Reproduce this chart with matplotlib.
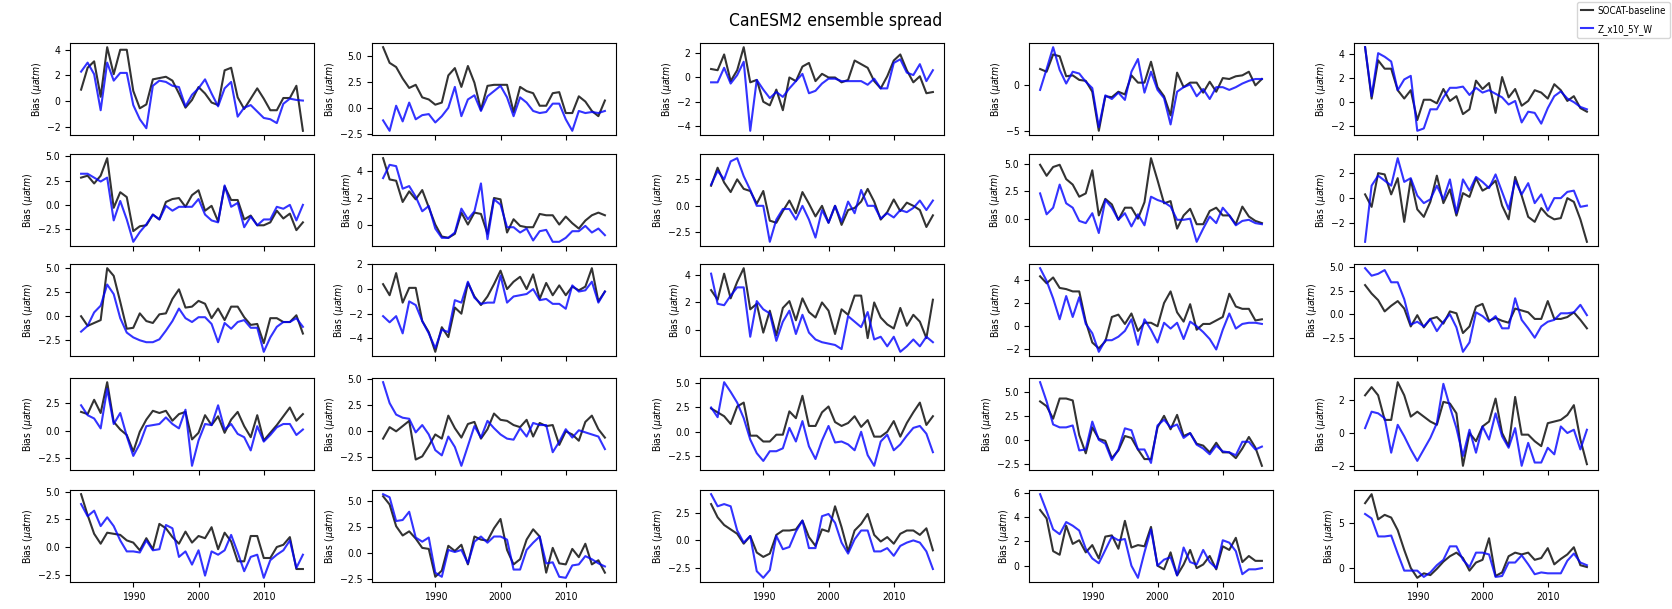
import numpy as np
import matplotlib
matplotlib.use("Agg")
import matplotlib.pyplot as plt

rc = plt.rc
rc('font', family="DejaVu Sans", size=7.5, stretch="condensed")

years = np.arange(1982, 2017)

# pCO2 bias per ensemble member: SOCAT-baseline (k) vs Z_x10_5Y_W (b)
m01_socat = [0.9, 2.6, 3.1, 0.35, 4.2, 2.1, 4.0, 4.0, 0.8, -0.55, -0.25, 1.7, 1.8, 1.9, 1.6, 0.6, -0.5, 0.1, 1.1, 0.6, -0.1, -0.3, 2.4, 2.6, 0.3, -0.6, 0.2, 1.0, 0.2, -0.7, -0.7, 0.25, 0.25, 1.2, -2.3]
m01_zx10 = [2.3, 3.0, 2.1, -0.7, 3.0, 1.6, 2.2, 2.2, -0.3, -1.4, -2.1, 1.2, 1.6, 1.5, 1.2, 1.1, -0.4, 0.5, 1.0, 1.7, 0.6, -0.4, 1.0, 1.5, -1.2, -0.5, -0.3, -0.8, -1.3, -1.4, -1.7, -0.2, 0.2, 0.1, 0.05]
m02_socat = [5.8, 4.3, 3.9, 2.8, 1.9, 2.2, 1.0, 0.8, 0.3, 0.5, 3.1, 3.8, 2.0, 4.0, 2.4, -0.2, 2.1, 2.2, 2.2, 2.2, -0.4, 2.0, 1.6, 1.4, 0.2, 0.2, 1.4, 1.5, -0.5, -0.5, 1.1, 0.6, -0.3, -0.8, 0.7]
m02_zx10 = [-1.2, -2.2, 0.2, -1.3, 0.5, -1.1, -0.7, -0.6, -1.4, -0.8, 0.0, 2.0, -0.8, 0.8, 1.2, -0.3, 1.1, 1.6, 2.1, 1.0, -0.8, 1.0, 0.5, -0.3, -0.5, -0.4, 0.4, 0.4, -1.1, -2.2, -0.3, -0.5, -0.4, -0.5, -0.3]
m03_socat = [0.7, 0.6, 1.9, -0.3, 0.6, 2.5, -0.4, -0.2, -2.0, -2.3, -1.0, -2.7, 0.0, -0.3, 0.9, 1.2, -0.3, 0.3, 0.0, 0.0, -0.4, -0.2, 1.4, 1.1, 0.8, -0.3, -0.9, 0.1, 1.4, 1.9, 0.6, -0.4, 0.1, -1.3, -1.2]
m03_zx10 = [-0.4, -0.4, 0.8, -0.5, 0.2, 1.3, -4.4, -0.2, -1.0, -1.7, -1.2, -1.6, -0.9, -0.3, 0.3, -1.3, -1.1, -0.5, -0.1, -0.1, -0.3, -0.3, -0.3, -0.3, -0.6, -0.1, -0.9, -0.9, 1.2, 1.5, 0.4, 0.2, 1.1, -0.3, 0.6]
m04_socat = [1.8, 1.5, 3.4, 3.2, 1.0, 1.1, 0.6, 0.5, -0.7, -5.0, -1.2, -1.3, -0.7, -1.0, 1.1, 0.3, 0.3, 2.6, -0.2, -1.2, -3.3, 1.4, -0.2, 0.3, 0.3, -0.8, 0.4, -0.7, 0.8, 0.7, 1.0, 1.1, 1.5, 0.0, 0.7]
m04_zx10 = [-0.5, 1.8, 4.2, 1.7, 0.2, 1.5, 1.3, 0.4, -0.3, -4.6, -1.1, -1.5, -0.8, -1.6, 1.5, 2.9, -0.8, 1.5, -0.5, -1.4, -4.3, -0.7, -0.2, 0.1, -1.2, -0.4, -1.5, -0.2, -0.2, -0.5, -0.2, 0.2, 0.5, 0.7, 0.7]
m05_socat = [4.6, 0.3, 3.5, 2.8, 2.8, 1.0, 0.3, 1.0, -1.5, 0.2, 0.2, -0.1, 1.1, 0.1, 0.5, -1.0, -0.6, 1.8, 1.1, 1.6, -0.9, 2.1, 0.4, 1.1, -0.3, 0.1, 1.0, 0.8, 0.3, 1.5, 1.0, 0.1, 0.5, -0.5, -0.8]
m05_zx10 = [4.6, 0.5, 4.1, 3.8, 3.4, 1.0, 1.9, 2.2, -2.4, -2.2, -0.6, -0.6, 0.4, 1.2, 1.2, 1.3, 0.6, 1.2, 0.8, 1.0, 0.7, 0.4, -0.2, 0.1, -1.7, -0.8, -0.9, -1.8, -0.5, 0.5, 0.9, 0.3, 0.0, -0.4, -0.6]

m06_socat = [2.8, 3.0, 2.2, 3.0, 4.8, -0.3, 1.3, 0.8, -2.7, -2.2, -2.1, -1.0, -1.5, 0.3, 0.6, 0.7, -0.2, 1.0, 1.5, -0.6, -0.1, -1.7, 1.9, 0.5, 0.5, -1.5, -1.1, -2.1, -2.1, -1.8, -0.6, -1.4, -0.9, -2.6, -1.8]
m06_zx10 = [3.2, 3.2, 2.8, 2.4, 2.8, -1.6, 0.4, -1.5, -3.8, -2.8, -2.0, -1.0, -1.5, -0.1, -0.6, -0.2, -0.2, -0.2, 0.6, -1.0, -1.6, -1.8, 2.0, -0.2, 0.2, -2.3, -1.2, -2.1, -1.5, -1.5, -0.2, -0.4, 0.0, -1.6, 0.0]
m07_socat = [5.0, 3.4, 3.3, 1.7, 2.5, 1.9, 2.6, 1.3, 0.0, -0.9, -1.0, -0.7, 0.9, 0.0, 0.9, 0.8, -0.7, 2.0, 1.9, -0.6, 0.4, -0.1, -0.2, -0.2, 0.8, 0.7, 0.7, 0.0, 0.6, 0.1, -0.3, 0.3, 0.7, 0.9, 0.7]
m07_zx10 = [3.5, 4.5, 4.4, 2.7, 2.9, 2.1, 1.0, 1.4, -0.3, -1.0, -1.0, -0.6, 1.2, 0.4, 1.0, 3.1, -1.1, 1.9, 1.5, -0.2, -0.2, -0.6, -0.3, -1.2, -0.5, -0.4, -1.3, -1.3, -1.0, -0.5, -0.5, -0.1, -0.6, -0.3, -0.8]
m08_socat = [1.9, 3.6, 2.2, 1.3, 2.5, 1.6, 1.4, 0.2, 1.4, -1.4, -1.6, -0.5, 0.5, -0.7, 1.3, 0.2, -1.0, 0.0, -1.6, 0.0, -1.8, -0.4, -0.2, 0.4, 1.6, 0.4, -1.3, -0.6, 0.6, -0.5, 0.3, 0.0, -0.4, -2.0, -0.9]
m08_zx10 = [2.0, 3.3, 2.5, 4.2, 4.5, 2.8, 1.5, 0.0, 0.0, -3.4, -1.3, -0.3, -0.3, -1.3, 0.0, -1.3, -3.0, -0.4, -1.6, 0.0, -1.5, 0.4, -0.7, 1.5, 0.0, 0.0, -1.2, -0.7, -1.1, -0.4, -0.6, -0.2, 0.5, -0.4, 0.5]
m09_socat = [4.9, 3.9, 4.7, 4.9, 3.6, 3.1, 2.0, 2.3, 4.4, 0.3, 1.8, 1.3, -0.1, 1.0, 1.0, 0.0, 1.5, 5.5, 3.5, 1.4, 1.6, -0.9, 0.3, 0.9, -0.5, -0.5, 0.7, 1.0, 0.3, 0.3, -0.5, 1.1, 0.2, -0.2, -0.4]
m09_zx10 = [2.3, 0.4, 1.0, 3.1, 1.4, 1.0, -0.2, -0.4, 0.5, -1.3, 1.7, 1.0, -0.1, 0.5, -0.7, 0.4, -0.6, 2.0, 1.7, 1.5, 1.1, -0.1, -0.1, 0.0, -2.1, -0.9, 0.2, -0.4, 1.0, 0.3, -0.6, -0.2, -0.1, -0.4, -0.5]
m10_socat = [0.3, -0.7, 2.0, 1.9, 0.3, 1.6, -1.9, 1.5, -0.9, -1.5, -0.3, 1.8, -0.4, 0.7, -1.4, 0.4, 0.1, 1.6, 0.6, 0.9, 1.4, -0.6, -1.7, 1.7, 0.2, -1.5, -1.9, -0.8, -1.4, -1.7, -1.6, 0.0, -0.3, -1.7, -3.5]
m10_zx10 = [-3.5, 1.0, 1.8, 1.4, 1.0, 3.2, 1.3, 1.6, 0.2, -0.4, -0.1, 1.0, -0.1, 1.5, -1.2, 1.5, 0.6, 1.7, 1.3, 0.8, 1.9, 0.5, -0.9, 1.4, 0.3, 1.2, -0.4, 0.3, -1.0, 0.0, 0.0, 0.5, 0.6, -0.7, -0.6]

m11_socat = [0.0, -1.0, -0.7, -0.4, 5.0, 4.2, 1.5, -1.3, -1.2, 0.3, -0.5, -0.7, 0.2, 0.3, 1.8, 2.8, 0.9, 1.0, 1.6, 1.3, -0.2, 0.8, -0.4, 1.0, 1.0, -0.1, -0.9, -0.8, -2.8, -0.2, -0.2, -0.6, -0.6, 0.1, -1.8]
m11_zx10 = [-1.6, -1.0, 0.4, 1.1, 3.3, 2.3, -0.2, -1.7, -2.2, -2.5, -2.7, -2.7, -2.4, -1.5, -0.5, 0.8, -0.2, -0.6, -0.1, -0.1, -0.8, -2.7, -0.7, -1.3, -0.6, -0.4, -1.2, -1.2, -3.7, -2.2, -1.1, -0.6, -0.6, -0.2, -1.1]
m12_socat = [0.4, -0.5, 1.3, -1.1, 0.1, 0.1, -2.6, -3.5, -5.1, -3.1, -3.9, -1.5, -2.0, 0.5, -0.6, -1.3, -0.6, 0.4, 1.5, 0.0, 0.6, 1.0, 0.0, 1.2, -0.8, 0.5, -0.5, 0.3, -0.5, 0.2, -0.1, 0.2, 1.7, -1.0, -0.2]
m12_zx10 = [-2.2, -2.7, -2.2, -3.6, -1.0, -1.3, -2.6, -3.6, -4.8, -3.3, -3.5, -0.9, -1.1, 0.6, -0.7, -1.2, -1.1, -1.1, 1.1, -1.1, -0.6, -0.5, -0.4, 0.0, -0.9, -0.8, -1.2, -1.2, -1.6, 0.3, -0.2, -0.1, 0.6, -1.1, -0.2]
m13_socat = [2.9, 2.2, 4.1, 2.3, 3.5, 4.5, 1.5, 1.9, -0.2, 1.4, -0.4, 1.6, 2.1, 0.7, 2.3, 1.3, 0.9, 2.0, 1.4, -0.3, 1.5, 1.1, 2.5, 2.5, -0.6, 2.0, 0.9, 0.4, 0.1, 1.6, 0.3, 1.1, 0.6, -0.6, 2.2]
m13_zx10 = [4.1, 1.9, 1.8, 2.5, 3.1, 3.1, -0.5, 2.1, 1.5, 1.2, -0.8, 0.6, 1.4, -0.3, 1.1, -0.2, -0.7, -0.9, -1.0, -1.1, -1.4, 1.0, 0.6, 0.2, 1.3, -0.7, -0.5, -1.2, -0.5, -1.6, -1.2, -0.7, -1.2, -0.5, -0.9]
m14_socat = [4.3, 3.7, 4.2, 3.3, 3.2, 3.0, 3.0, 0.4, -1.4, -1.9, -1.3, 0.8, 1.0, 0.2, 1.1, -0.4, 0.3, 0.3, 0.0, 2.0, 3.0, 1.2, 0.4, 1.9, -0.3, 0.2, 0.2, 0.5, 0.8, 2.8, 1.7, 1.5, 1.5, 0.5, 0.6]
m14_zx10 = [5.0, 3.9, 2.4, 0.6, 2.6, 0.8, 2.5, 0.2, -0.6, -2.2, -1.2, -1.2, -0.9, -0.4, 0.6, -1.6, 0.6, -0.3, -1.4, 0.3, -0.2, 0.3, -1.1, 0.4, 0.0, -0.5, -1.1, -2.0, -0.3, 1.1, -0.2, 0.2, 0.3, 0.3, 0.2]
m15_socat = [3.1, 2.2, 1.5, 0.3, 0.9, 1.4, 0.6, -1.3, -0.1, -1.4, -0.5, -0.3, -1.0, 0.3, 0.1, -2.0, -1.3, 0.8, 1.1, -0.7, -0.4, -0.7, -0.9, 0.6, 0.4, 0.2, -0.5, -0.5, 1.4, -0.5, -0.5, -0.3, 0.2, -0.6, -1.5]
m15_zx10 = [4.9, 4.1, 4.3, 4.7, 3.4, 3.4, 1.6, -1.1, -0.8, -1.3, -0.5, -1.8, -0.8, 0.0, -1.4, -4.0, -3.0, 0.2, -0.2, -0.8, -0.2, -1.5, -1.5, 1.7, -0.6, -1.5, -2.5, -1.3, -0.8, -0.6, 0.1, 0.1, 0.2, 1.0, -0.1]

m16_socat = [1.7, 1.5, 2.8, 1.6, 4.4, 0.8, 0.1, -0.4, -1.9, -0.1, 1.0, 1.8, 1.6, 1.8, 0.9, 1.5, 1.7, -0.8, -0.2, 1.4, 0.5, 1.3, -0.2, 1.0, 1.7, 0.4, -0.6, 1.4, -0.9, -0.2, 0.5, 1.3, 2.1, 0.9, 1.5]
m16_zx10 = [2.3, 1.4, 1.1, 0.2, 3.8, 0.6, 1.6, -0.5, -2.3, -1.2, 0.4, 0.5, 0.6, 1.2, 0.6, 0.2, 1.9, -3.2, -0.9, 0.6, 0.5, 2.3, 0.1, 0.6, -0.3, -0.6, -1.8, 0.4, -1.0, -0.4, 0.3, 0.6, 0.6, -0.4, 0.1]
m17_socat = [-0.7, 0.4, 0.0, 0.5, 1.0, -2.7, -2.4, -1.4, -0.3, -0.7, 1.5, 0.3, -0.6, 0.7, 0.9, -0.7, 0.2, 1.7, 1.1, 1.0, 0.6, 0.4, 1.1, -0.5, 0.8, 0.5, 0.6, -1.3, 0.0, -0.3, -0.9, 0.9, 1.5, 0.2, -0.6]
m17_zx10 = [4.7, 2.7, 1.6, 1.3, 1.2, -0.1, 0.6, -0.3, -1.8, -2.3, -0.5, -1.5, -3.3, -1.4, 0.5, -0.6, 1.0, 0.3, -0.3, -0.7, -0.8, 0.3, -0.5, 0.8, 0.6, 0.6, -2.0, -1.0, 0.2, -0.6, 0.1, -0.1, -0.3, -0.5, -1.7]
m18_socat = [2.4, 2.0, 1.6, 0.8, 2.6, 3.0, -0.4, -0.4, -1.0, -1.0, -0.3, -0.3, 2.1, 1.4, 3.7, 0.6, 0.6, 2.0, 2.6, 1.0, 0.6, 0.9, 1.6, 0.5, 1.2, -0.5, -0.5, 0.0, 1.1, -0.5, 0.9, 2.0, 3.0, 0.7, 1.6]
m18_zx10 = [2.5, 1.5, 5.1, 4.1, 3.0, 1.4, -0.8, -2.2, -3.0, -2.0, -2.0, -1.7, 0.4, -1.0, 1.1, -1.5, -2.8, -0.9, 0.6, -1.1, -1.0, -1.3, -1.9, 0.0, -2.4, -3.5, -1.0, -0.3, -1.9, -1.3, -0.4, 0.4, 0.6, -0.2, -2.1]
m19_socat = [4.0, 3.5, 2.2, 4.3, 4.3, 4.1, 0.5, -1.4, 1.3, 0.1, -0.1, -1.9, -1.1, 0.4, 0.2, -1.0, -2.0, -2.0, 1.3, 2.5, 1.1, 2.6, 0.4, 0.7, -0.4, -0.6, -1.3, -0.3, -1.3, -1.3, -1.9, -0.9, 0.3, -0.8, -2.7]
m19_zx10 = [6.0, 4.0, 1.6, 1.3, 1.3, 1.5, -1.1, -1.0, 1.9, 0.0, -0.4, -2.1, -1.0, 1.2, 1.0, -1.0, -1.0, -2.4, 1.5, 2.1, 1.3, 1.6, 0.2, 0.7, -0.5, -0.9, -1.5, -0.6, -1.2, -1.3, -1.6, -0.2, -0.2, -1.0, -0.7]
m20_socat = [2.3, 2.8, 2.3, 0.8, 0.8, 3.1, 2.3, 1.0, 1.3, 1.0, 0.7, 0.5, 1.9, 1.8, 1.2, -2.0, 0.0, -0.5, 0.4, 0.7, 2.1, 0.0, -0.8, 2.2, -0.1, -0.1, -0.5, -0.8, 0.6, 0.7, 0.8, 1.1, 1.7, -0.4, -1.9]
m20_zx10 = [0.3, 1.3, 1.2, 0.9, -1.2, 0.5, -0.2, -1.0, -1.7, -1.0, -0.3, 0.6, 3.0, 1.6, 0.3, -1.4, 0.2, -1.2, 0.4, -0.4, 1.2, -0.2, -0.9, 0.3, -2.0, -0.6, -1.8, -1.8, -0.9, -1.3, 0.4, 0.0, 0.2, -1.0, 0.2]

m21_socat = [4.8, 2.9, 1.2, 0.3, 1.3, 1.2, 1.1, 0.6, 0.4, -0.3, 0.8, -0.2, 2.1, 1.7, 0.9, 0.3, 1.4, 0.4, 1.0, 0.8, 1.8, -0.2, 1.3, 0.5, -1.3, -1.3, 1.0, 1.0, -1.0, -1.0, 0.0, 0.2, 0.9, -2.0, -2.0]
m21_zx10 = [3.9, 2.8, 3.3, 1.9, 2.7, 1.9, 0.6, -0.4, -0.4, -0.5, 0.6, -0.3, -0.2, 2.0, 1.7, -0.9, -0.4, -1.6, -0.3, -2.6, -0.4, -0.7, -0.3, 1.1, -0.5, -2.2, -0.9, -0.7, -2.8, -1.2, -0.7, -0.3, 0.6, -1.9, -0.7]
m22_socat = [5.5, 4.7, 2.6, 1.7, 2.1, 1.4, 0.5, 0.4, -2.3, -1.7, 0.7, 0.2, 0.8, -1.1, 1.6, 1.3, 1.2, 2.4, 3.3, 0.3, -1.1, -0.6, 1.3, 2.3, 1.6, -1.9, 0.5, -1.0, -1.1, 0.4, -0.4, 0.9, -1.1, -0.7, -1.9]
m22_zx10 = [5.7, 5.4, 3.1, 3.2, 4.0, 1.5, 1.1, 1.5, -1.9, -2.3, 0.3, 0.1, 0.3, -1.0, 1.1, 1.6, 1.0, 1.6, 1.6, 1.3, -1.6, -1.6, 0.3, 1.0, 1.6, -1.0, -0.9, -2.3, -2.4, -1.2, -1.1, -0.3, -0.6, -1.0, -1.3]
m23_socat = [3.3, 2.1, 1.4, 1.0, 0.6, -0.3, 0.4, -1.1, -1.5, -1.2, 0.5, 0.9, 0.9, 1.0, 1.8, 0.3, -0.5, 1.0, 0.8, 3.1, 1.2, -1.0, 0.9, 1.5, 2.4, 0.5, -0.1, 0.3, -0.3, 0.6, 0.9, 0.9, 0.5, 1.1, -0.9]
m23_zx10 = [4.2, 3.1, 3.3, 3.1, 0.9, -0.2, 0.4, -2.8, -3.4, -2.7, 0.4, -0.8, -0.6, 0.8, 1.8, -0.7, -0.7, 2.2, 2.4, 1.6, -0.2, -1.2, 0.1, 0.9, 0.9, -1.0, -1.0, -0.7, -1.4, -0.5, -0.2, 0.0, -0.2, -1.0, -2.6]
m24_socat = [4.6, 3.9, 1.2, 0.9, 3.3, 1.8, 2.1, 1.1, 1.7, 0.6, 2.4, 2.5, 1.4, 3.7, 1.5, 1.7, 1.6, 3.2, 0.0, -0.3, 1.1, -0.8, 0.1, 1.3, -0.2, 0.1, 0.8, -0.3, 1.6, 1.3, 2.3, 0.3, 0.8, 0.4, 0.4]
m24_zx10 = [5.9, 4.5, 3.0, 2.6, 3.6, 3.3, 2.9, 1.4, 0.6, 0.2, 1.3, 2.4, 2.1, 2.2, 0.0, -1.0, 1.1, 3.0, 0.0, 0.5, 0.7, -0.8, 1.5, 0.3, 0.1, 1.3, 0.3, -0.2, 2.1, 1.9, 1.2, -0.7, -0.3, -0.3, -0.2]
m25_socat = [7.2, 8.2, 5.4, 5.9, 5.6, 4.2, 2.0, 0.0, -1.1, -0.6, -0.8, -0.1, 0.7, 1.3, 1.7, 1.1, -0.3, 0.6, 0.9, 3.3, -0.9, -0.5, 1.3, 1.7, 1.5, 1.7, 0.9, 1.1, 2.2, 0.4, 1.0, 1.5, 2.3, 0.3, 0.1]
m25_zx10 = [6.0, 5.5, 3.5, 3.5, 3.6, 1.6, -0.3, -0.3, -0.3, -1.0, -0.5, 0.3, 0.9, 2.4, 2.4, 0.9, 0.1, 1.7, 1.7, 1.5, -1.0, -0.9, 0.6, 0.6, 1.4, 0.4, -0.7, -0.5, -0.6, -0.6, -0.6, 0.8, 1.6, 0.6, 0.3]

socat = [m01_socat, m02_socat, m03_socat, m04_socat, m05_socat,
         m06_socat, m07_socat, m08_socat, m09_socat, m10_socat,
         m11_socat, m12_socat, m13_socat, m14_socat, m15_socat,
         m16_socat, m17_socat, m18_socat, m19_socat, m20_socat,
         m21_socat, m22_socat, m23_socat, m24_socat, m25_socat]
zx10 = [m01_zx10, m02_zx10, m03_zx10, m04_zx10, m05_zx10,
        m06_zx10, m07_zx10, m08_zx10, m09_zx10, m10_zx10,
        m11_zx10, m12_zx10, m13_zx10, m14_zx10, m15_zx10,
        m16_zx10, m17_zx10, m18_zx10, m19_zx10, m20_zx10,
        m21_zx10, m22_zx10, m23_zx10, m24_zx10, m25_zx10]

# panel grid in pixels (figure is 1672 x 609)
W, H = 1672., 609.
col_left = [70, 372, 700, 1029, 1354]
row_top = [43, 154, 264, 378, 490]
pw, ph = 244, 92

fig = plt.figure(figsize=(16.72, 6.09), dpi=100)

axes = []
for k in range(25):
    r, c = divmod(k, 5)
    ax = fig.add_axes([col_left[c] / W, 1 - (row_top[r] + ph) / H,
                       pw / W, ph / H])
    l1, = ax.plot(years, socat[k], color="k", alpha=0.8, lw=1.5,
                  label="SOCAT-baseline")
    l2, = ax.plot(years, zx10[k], color="b", alpha=0.8, lw=1.5,
                  label="Z_x10_5Y_W")
    ax.set_ylabel(r"Bias ($\mu atm$)", labelpad=2)
    ax.set_xticks([1990, 2000, 2010])
    if r < 4:
        ax.set_xticklabels([])
    axes.append(ax)

# keep the y labels of each column on one line
for c in range(5):
    fig.align_ylabels(axes[c::5])

fig.suptitle("CanESM2 ensemble spread", x=0.5, y=0.966, va="center",
             fontsize=12.5)
fig.legend(handles=[l1, l2], loc="upper right", bbox_to_anchor=(1.0, 1.0),
           borderaxespad=0.2, fontsize=7, handlelength=1.2,
           handletextpad=0.5, labelspacing=0.8)

fig.savefig("out.png", dpi=100)
